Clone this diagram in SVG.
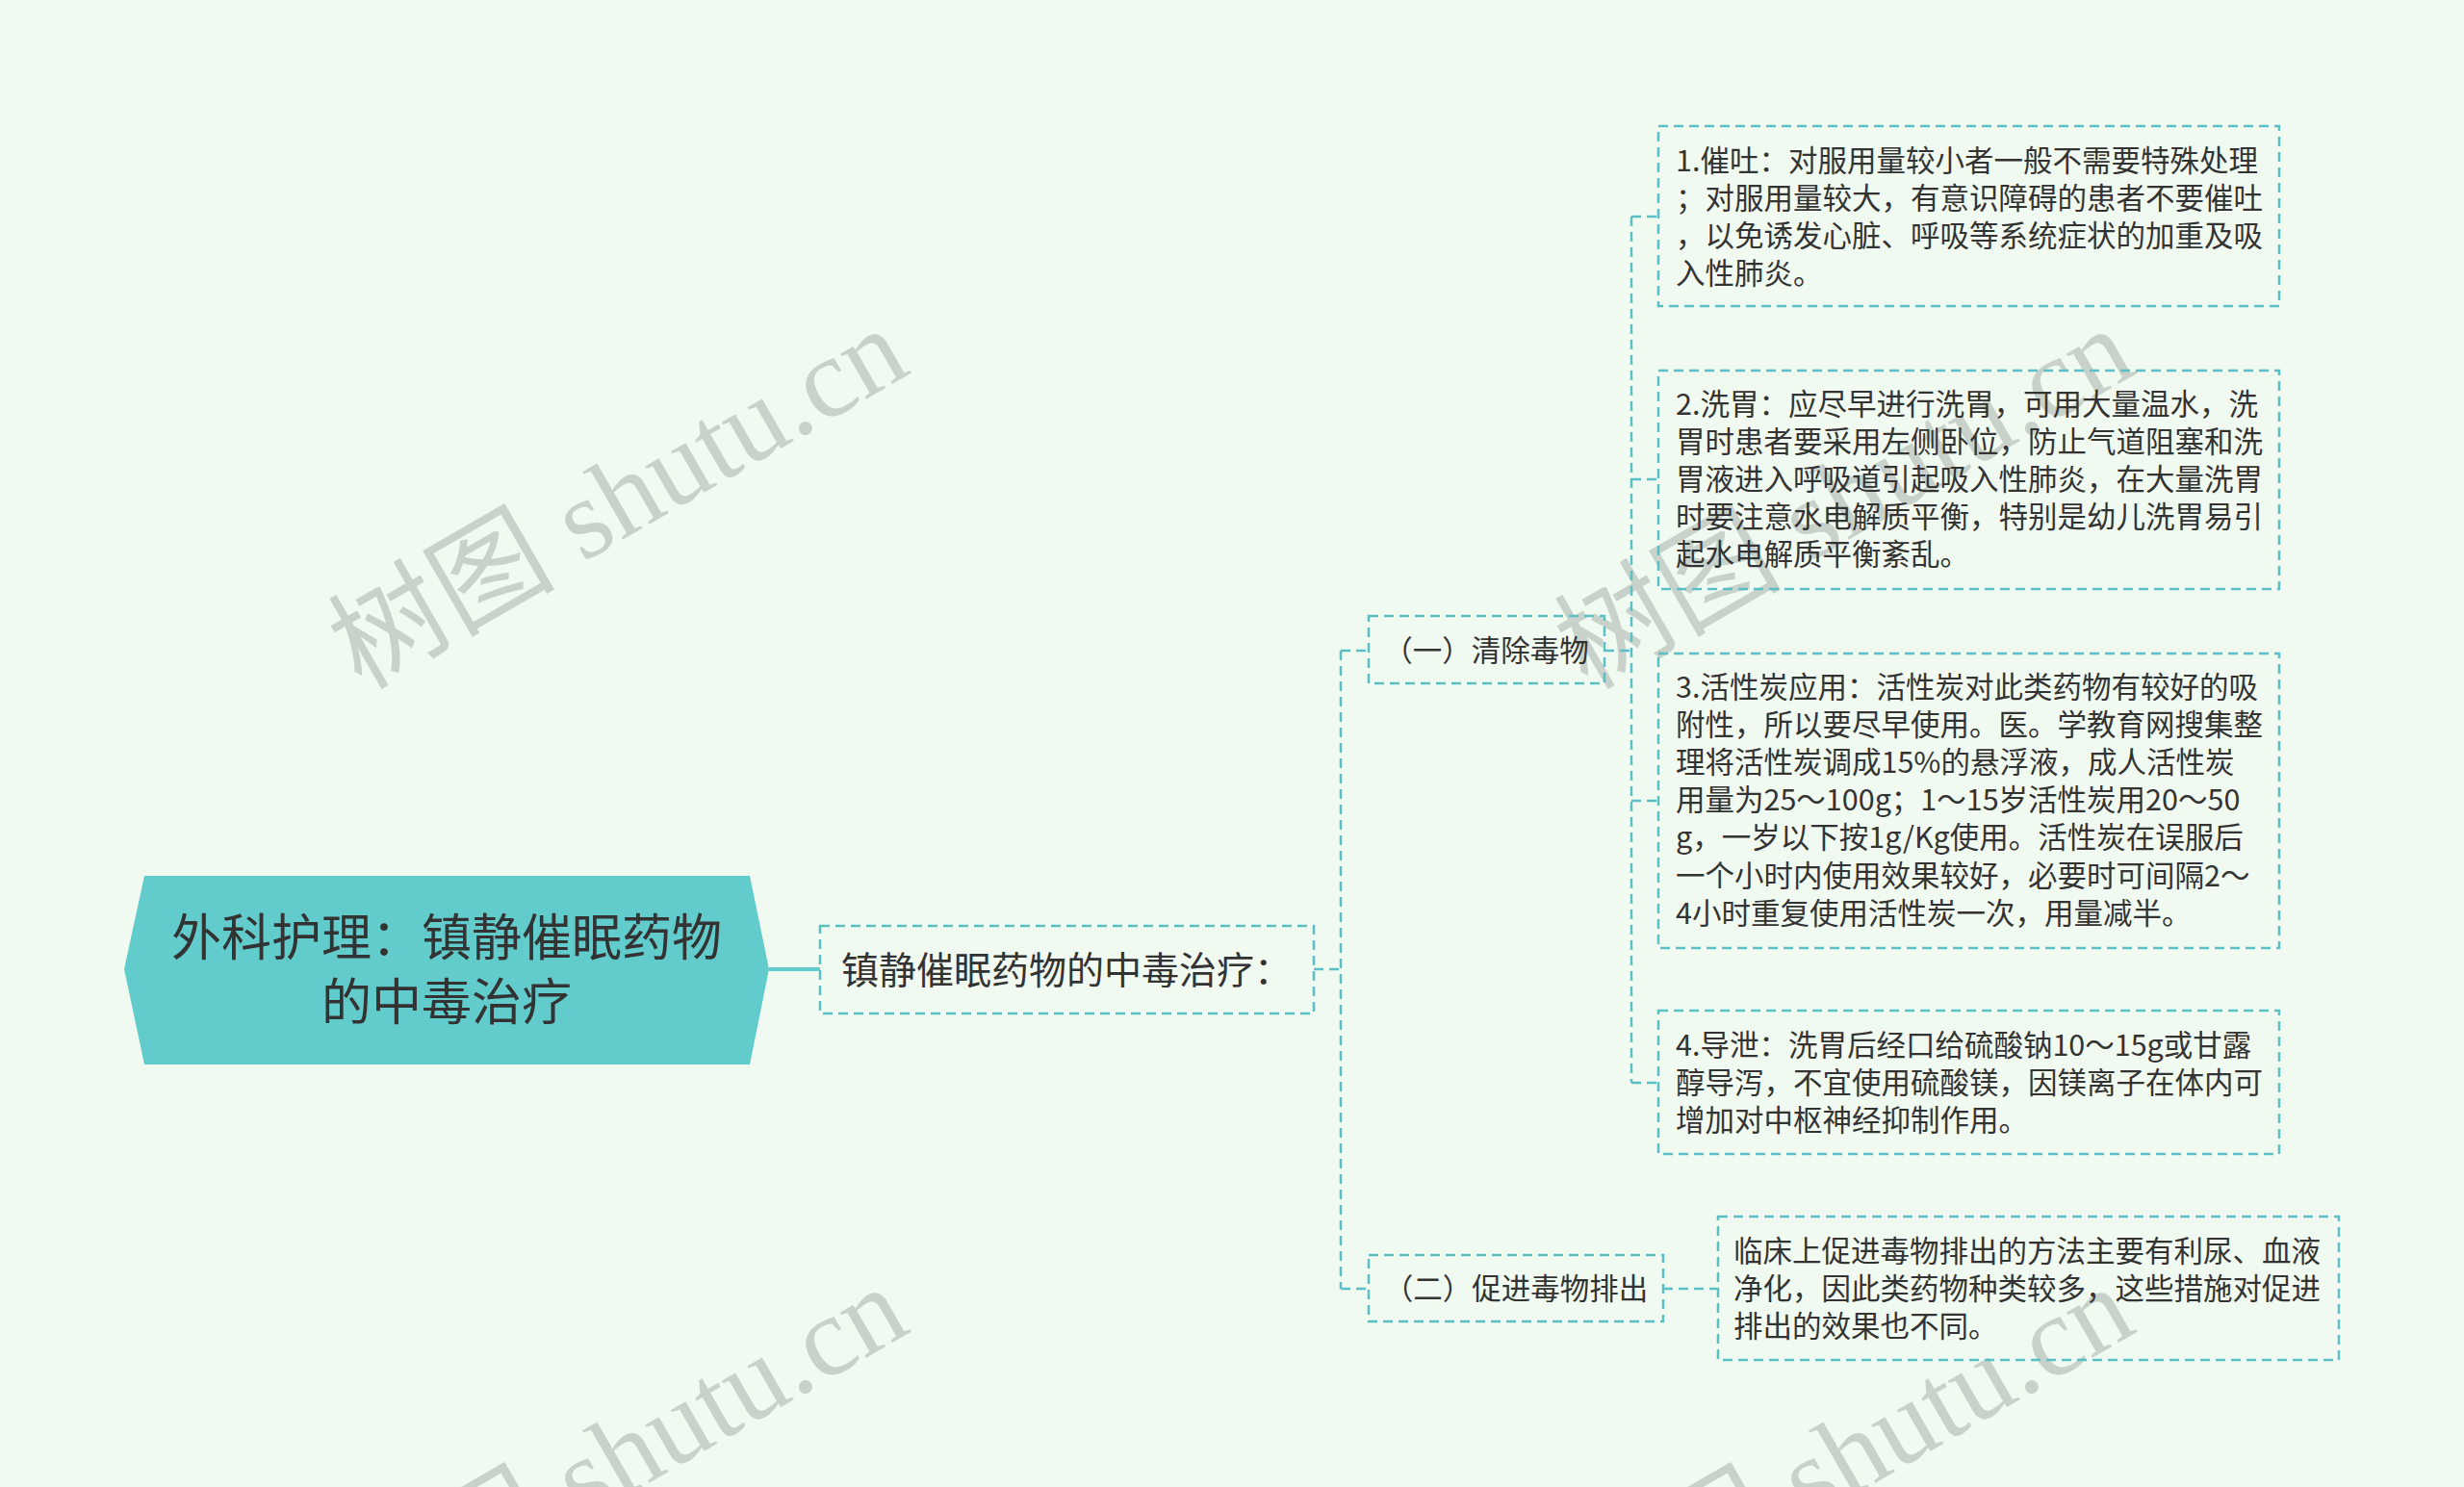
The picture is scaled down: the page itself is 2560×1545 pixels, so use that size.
<svg xmlns="http://www.w3.org/2000/svg" width="2560" height="1545" viewBox="0 0 2560 1545">
<style>
.bg{fill:#f1faf0}
.box{fill:none;stroke:#5bbfc6;stroke-width:2.5;stroke-dasharray:10 6}
.con{fill:none;stroke:#5bbfc6;stroke-width:2.5;stroke-dasharray:10 6}
.t{font-family:"Noto Sans CJK SC","Noto Sans",sans-serif;fill:#333333}
.leaf{font-size:30.5px}
.wm{font-family:"Liberation Serif","Noto Sans CJK SC",serif;font-size:118px;fill:#c3ccc4;opacity:0.85}
</style>
<rect class="bg" x="0" y="0" width="2560" height="1545"/>
<g id="watermarks">
<text class="wm" x="0" y="0" text-anchor="middle" transform="translate(662,552) rotate(-30)">树图 shutu.cn</text>
<text class="wm" x="0" y="0" text-anchor="middle" transform="translate(1936,552) rotate(-30)">树图 shutu.cn</text>
<text class="wm" x="0" y="0" text-anchor="middle" transform="translate(662,1548) rotate(-30)">树图 shutu.cn</text>
<text class="wm" x="0" y="0" text-anchor="middle" transform="translate(1936,1548) rotate(-30)">树图 shutu.cn</text>
</g>
<g id="connectors">
<line x1="799" y1="1007" x2="852" y2="1007" stroke="#62cbcc" stroke-width="4"/>
<path class="con" d="M1365,1007 H1393 M1393,676 V1339 M1393,676 H1422 M1393,1339 H1422"/>
<path class="con" d="M1667,676 H1695 M1695,225 V1125 M1695,225 H1723 M1695,498 H1723 M1695,832 H1723 M1695,1125 H1723"/>
<path class="con" d="M1728,1339 H1785"/>
</g>
<g id="root">
<polygon points="150,910 779,910 799,1007 779,1106 150,1106 129,1007" fill="#62cbcc"/>
<text class="t" x="464" y="993" font-size="52" text-anchor="middle">外科护理：镇静催眠药物</text>
<text class="t" x="464" y="1060" font-size="52" text-anchor="middle">的中毒治疗</text>
</g>
<g id="n1">
<rect class="box" x="852" y="962" width="513" height="91"/>
<text class="t" x="1108" y="1022" font-size="39" text-anchor="middle">镇静催眠药物的中毒治疗：</text>
</g>
<g id="n2">
<rect class="box" x="1422" y="640" width="245" height="70"/>
<text class="t" x="1544" y="687" font-size="30.5" text-anchor="middle">（一）清除毒物</text>
</g>
<g id="n3">
<rect class="box" x="1422" y="1304" width="306" height="69"/>
<text class="t" x="1575" y="1350" font-size="30.5" text-anchor="middle">（二）促进毒物排出</text>
</g>
<g id="leaf1">
<rect class="box" x="1723" y="131" width="645" height="187"/>
<text class="t leaf" x="1741"><tspan x="1741" y="178">1.催吐：对服用量较小者一般不需要特殊处理</tspan><tspan x="1741" y="217">；对服用量较大，有意识障碍的患者不要催吐</tspan><tspan x="1741" y="256">，以免诱发心脏、呼吸等系统症状的加重及吸</tspan><tspan x="1741" y="295">入性肺炎。</tspan></text>
</g>
<g id="leaf2">
<rect class="box" x="1723" y="385" width="645" height="227"/>
<text class="t leaf" x="1741"><tspan x="1741" y="431">2.洗胃：应尽早进行洗胃，可用大量温水，洗</tspan><tspan x="1741" y="470">胃时患者要采用左侧卧位，防止气道阻塞和洗</tspan><tspan x="1741" y="509">胃液进入呼吸道引起吸入性肺炎，在大量洗胃</tspan><tspan x="1741" y="548">时要注意水电解质平衡，特别是幼儿洗胃易引</tspan><tspan x="1741" y="587">起水电解质平衡紊乱。</tspan></text>
</g>
<g id="leaf3">
<rect class="box" x="1723" y="679" width="645" height="306"/>
<text class="t leaf" x="1741"><tspan x="1741" y="725">3.活性炭应用：活性炭对此类药物有较好的吸</tspan><tspan x="1741" y="764">附性，所以要尽早使用。医。学教育网搜集整</tspan><tspan x="1741" y="803">理将活性炭调成15%的悬浮液，成人活性炭</tspan><tspan x="1741" y="842">用量为25～100g；1～15岁活性炭用20～50</tspan><tspan x="1741" y="881">g，一岁以下按1g/Kg使用。活性炭在误服后</tspan><tspan x="1741" y="921">一个小时内使用效果较好，必要时可间隔2～</tspan><tspan x="1741" y="960">4小时重复使用活性炭一次，用量减半。</tspan></text>
</g>
<g id="leaf4">
<rect class="box" x="1723" y="1050" width="645" height="149"/>
<text class="t leaf" x="1741"><tspan x="1741" y="1097">4.导泄：洗胃后经口给硫酸钠10～15g或甘露</tspan><tspan x="1741" y="1136">醇导泻，不宜使用硫酸镁，因镁离子在体内可</tspan><tspan x="1741" y="1175">增加对中枢神经抑制作用。</tspan></text>
</g>
<g id="leaf5">
<rect class="box" x="1785" y="1264" width="645" height="149"/>
<text class="t leaf" x="1801"><tspan x="1801" y="1311">临床上促进毒物排出的方法主要有利尿、血液</tspan><tspan x="1801" y="1350">净化，因此类药物种类较多，这些措施对促进</tspan><tspan x="1801" y="1389">排出的效果也不同。</tspan></text>
</g>
</svg>
